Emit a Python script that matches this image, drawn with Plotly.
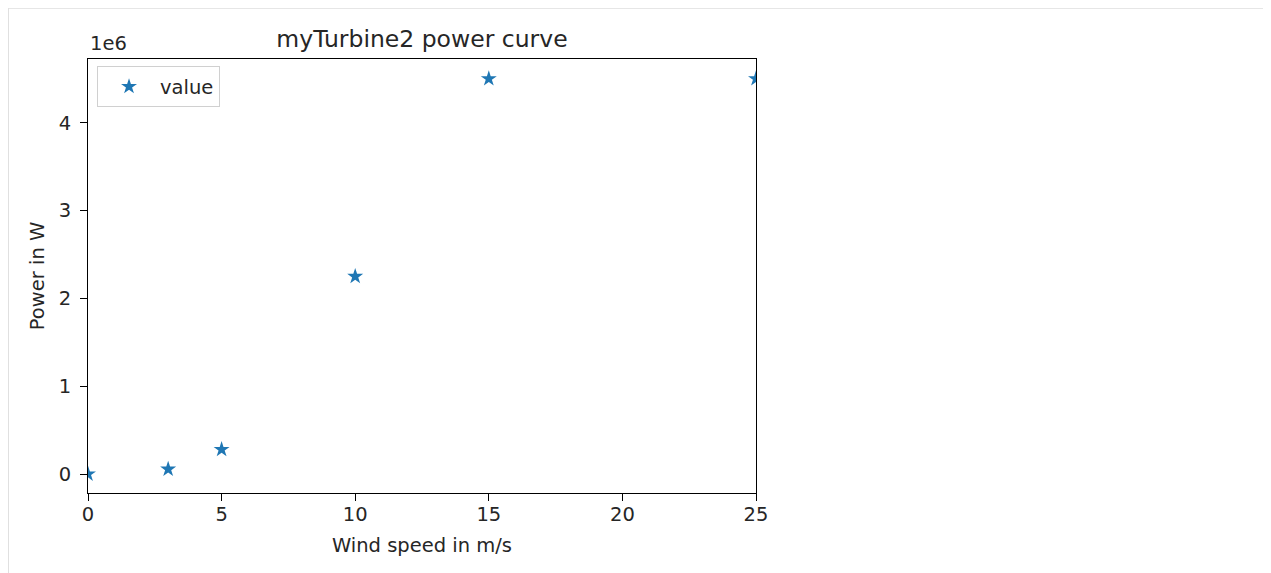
import plotly.graph_objects as go

wind_speed = [0, 3, 5, 10, 15, 25]
power = [0, 0.056e6, 0.28e6, 2.25e6, 4.5e6, 4.5e6]
y_tick_vals = [0, 1e6, 2e6, 3e6, 4e6]
y_tick_text = ["0", "1", "2", "3", "4"]
x_tick_vals = [0, 5, 10, 15, 20, 25]

font = "DejaVu Sans"
txt = "#262626"
fs = 19.5
L, R, T, B = 80, 523, 51, 88
W, H = 1271, 573
pw, ph = W - L - R, H - T - B

fig = go.Figure()
fig.add_trace(go.Scatter(
    x=wind_speed, y=power, mode="markers", name="value",
    marker=dict(symbol="star", size=12, color="#1f77b4", line=dict(width=0)),
))

axis_common = dict(showgrid=False, zeroline=False,
                   showline=True, linecolor="black", linewidth=1, mirror=True,
                   ticks="outside", ticklen=7, tickcolor="black",
                   tickfont=dict(family=font, size=fs, color=txt))

fig.update_layout(
    width=W, height=H,
    margin=dict(l=L, r=R, t=T, b=B, pad=0),
    paper_bgcolor="white", plot_bgcolor="white",
    font=dict(family=font, size=fs, color=txt),
    title=dict(text="myTurbine2 power curve", x=0.5, xanchor="center", xref="paper",
               y=1, yref="paper", yanchor="bottom", pad=dict(b=12),
               font=dict(family=font, size=23.5, color=txt)),
    showlegend=True,
    legend=dict(x=0.0135, y=0.983, xanchor="left", yanchor="top",
                bordercolor="#d0d0d0", borderwidth=1, bgcolor="rgba(255,255,255,0.8)",
                itemwidth=52, tracegroupgap=0,
                font=dict(family=font, size=fs, color=txt)),
    xaxis=dict(range=[0, 25], tickvals=x_tick_vals, ticklabelstandoff=-3,
               title=dict(text="Wind speed in m/s", standoff=12,
                          font=dict(family=font, size=fs, color=txt)),
               **axis_common),
    yaxis=dict(range=[-0.215e6, 4.725e6], tickvals=y_tick_vals, ticktext=y_tick_text,
               ticklabelstandoff=5,
               title=dict(text="Power in W", standoff=8,
                          font=dict(family=font, size=fs, color=txt)),
               **axis_common),
    annotations=[dict(text="1e6", xref="paper", yref="paper", x=0, y=1,
                      xanchor="left", yanchor="bottom", showarrow=False,
                      font=dict(family=font, size=fs, color=txt), yshift=2)],
    shapes=[
        dict(type="line", xref="paper", yref="paper", x0=-L / pw, x1=(W - L) / pw,
             y0=1 + (T - 0.5) / ph, y1=1 + (T - 0.5) / ph,
             line=dict(color="#e6e6e6", width=1)),
        dict(type="line", xref="paper", yref="paper", x0=(0.5 - L) / pw, x1=(0.5 - L) / pw,
             y0=-B / ph, y1=1 + T / ph,
             line=dict(color="#e0e0e0", width=1)),
    ],
)
fig.write_html("out.html")
